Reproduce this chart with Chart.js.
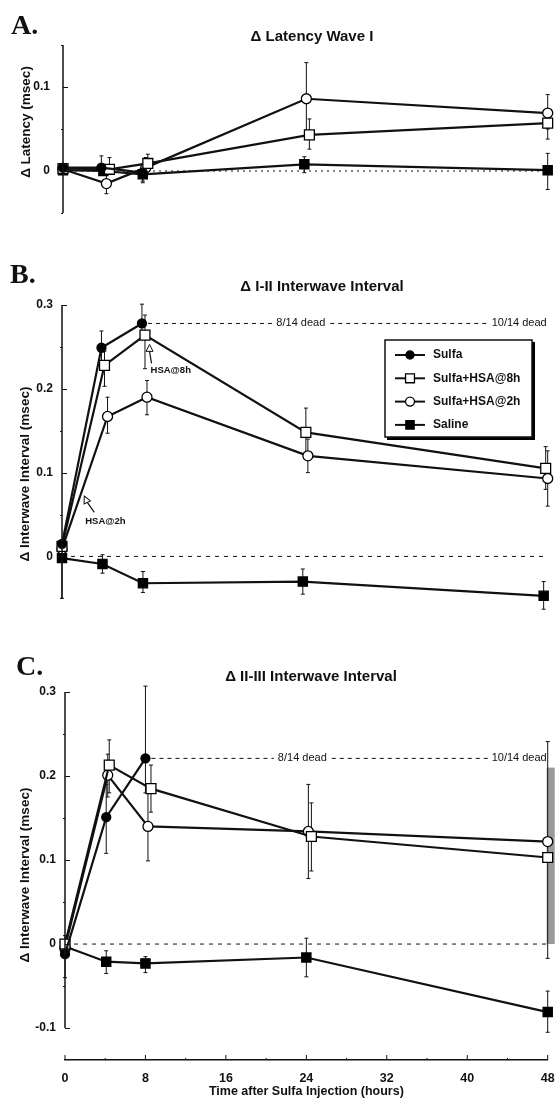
<!DOCTYPE html>
<html>
<head>
<meta charset="utf-8">
<script src="https://cdn.jsdelivr.net/npm/chart.js@4.4.1/dist/chart.umd.min.js"></script>
<style>
  body { margin: 0; background: #fff; }
  .panel { position: absolute; left: 0; }
</style>
</head>
<body>
<div class="panel" style="top:0"><canvas id="chartA" width="556" height="262"></canvas></div>
<div class="panel" style="top:262px"><canvas id="chartB" width="556" height="378"></canvas></div>
<div class="panel" style="top:640px"><canvas id="chartC" width="556" height="462"></canvas></div>
<script>
// ---- data (hours, msec) ----
const SERIES_LABELS = ['Sulfa', 'Sulfa+HSA@8h', 'Sulfa+HSA@2h', 'Saline'];
const HOURS_MAJOR = [0, 8, 16, 24, 32, 40, 48];
const HOURS_MINOR = [4, 12, 20, 28, 36, 44];

// A. latency wave I
const A_SULFA_X = [0, 3.8, 7.9];
const A_SULFA_Y = [0.004, 0.004, -0.002];
const A_SULFA_ERR = [null, [0.0, 0.018], [-0.012, 0.008]];
const A_HSA8_X = [0, 4.6, 8.4, 24.4, 48];
const A_HSA8_Y = [0.003, 0.002, 0.009, 0.043, 0.057];
const A_HSA8_ERR = [null, [-0.004, 0.016], [0.0, 0.02], [0.026, 0.062], [0.038, 0.07]];
const A_HSA2_X = [0, 4.3, 8.2, 24.1, 48];
const A_HSA2_Y = [0.002, -0.015, 0.004, 0.086, 0.069];
const A_HSA2_ERR = [null, [-0.027, -0.004], [-0.006, 0.016], [0.045, 0.129], [0.05, 0.091]];
const A_SALINE_X = [0, 4, 7.9, 23.9, 48];
const A_SALINE_Y = [0.001, 0.0, -0.004, 0.008, 0.001];
const A_SALINE_ERR = [null, null, [-0.014, 0.004], [-0.002, 0.017], [-0.022, 0.021]];
const A_Y_LABELS = [0, 0.1];

// B. I-II interwave interval
const B_SULFA_X = [0, 3.9, 7.9];
const B_SULFA_Y = [0.015, 0.249, 0.278];
const B_SULFA_ERR = [null, [0.23, 0.269], [0.265, 0.301]];
const B_HSA8_X = [0, 4.2, 8.2, 24.1, 47.8];
const B_HSA8_Y = [0.012, 0.228, 0.264, 0.148, 0.105];
const B_HSA8_ERR = [null, [0.203, 0.245], [0.224, 0.288], [0.118, 0.177], [0.08, 0.131]];
const B_HSA2_X = [0, 4.5, 8.4, 24.3, 48];
const B_HSA2_Y = [0.009, 0.167, 0.19, 0.12, 0.093];
const B_HSA2_ERR = [null, [0.147, 0.19], [0.169, 0.21], [0.1, 0.14], [0.06, 0.126]];
const B_SALINE_X = [0, 4, 8, 23.8, 47.6];
const B_SALINE_Y = [-0.002, -0.009, -0.032, -0.03, -0.047];
const B_SALINE_ERR = [[-0.05, 0.01], [-0.02, 0.002], [-0.043, -0.018], [-0.045, -0.015], [-0.063, -0.03]];
const B_Y_LABELS = [0, 0.1, 0.2, 0.3];

// C. II-III interwave interval
const C_SULFA_X = [0, 4.1, 8.0];
const C_SULFA_Y = [-0.012, 0.151, 0.221];
const C_SULFA_ERR = [null, [0.108, 0.19], [0.18, 0.307]];
const C_HSA8_X = [0, 4.4, 8.55, 24.5, 48];
const C_HSA8_Y = [0.0, 0.213, 0.185, 0.128, 0.103];
const C_HSA8_ERR = [null, [0.18, 0.243], [0.157, 0.213], [0.087, 0.168], null];
const C_HSA2_X = [0, 4.25, 8.25, 24.2, 48];
const C_HSA2_Y = [-0.004, 0.201, 0.14, 0.134, 0.122];
const C_HSA2_ERR = [null, [0.175, 0.226], [0.099, 0.18], [0.078, 0.19], [-0.017, 0.241]];
const C_HSA2_SHADE = [null, null, null, null, [0.0, 0.21]];
const C_SALINE_X = [0, 4.1, 8, 24, 48];
const C_SALINE_Y = [-0.003, -0.021, -0.023, -0.016, -0.081];
const C_SALINE_ERR = [[-0.04, 0.01], [-0.035, -0.008], [-0.034, -0.015], [-0.039, 0.007], [-0.105, -0.056]];
const C_Y_LABELS = [-0.1, 0, 0.1, 0.2, 0.3];

const INK = '#111';
const SANS = "'Liberation Sans', Arial, sans-serif";
Chart.defaults.font.family = SANS;
Chart.defaults.color = INK;

const MARKERS = [
    { pointStyle: 'circle', pointRadius: 4.5, pointBackgroundColor: '#000' },
    { pointStyle: 'rect', pointRadius: 7, pointBackgroundColor: '#fff' },
    { pointStyle: 'circle', pointRadius: 5, pointBackgroundColor: '#fff' },
    { pointStyle: 'rect', pointRadius: 6.5, pointBackgroundColor: '#000' }
];

function series(i, xs, ys, errs, shade) {
    return {
        label: SERIES_LABELS[i],
        data: xs.map((x, j) => ({ x: x, y: ys[j] })),
        errorBars: errs,
        errorShade: shade || null,
        borderColor: INK,
        borderWidth: 2.2,
        pointBorderColor: '#000',
        pointBorderWidth: 1.3,
        pointHoverRadius: MARKERS[i].pointRadius,
        clip: 12,
        ...MARKERS[i]
    };
}

function line(ctx, x1, y1, x2, y2) {
    ctx.beginPath();
    ctx.moveTo(x1, y1);
    ctx.lineTo(x2, y2);
    ctx.stroke();
}

function fmt(v) {
    return v === 0 ? '0' : v.toFixed(1);
}

// axes, error bars and the printed annotations of one panel
function decorPlugin(d) {
    return {
        id: 'decor',
        beforeDatasetsDraw(chart) {
            const { ctx, chartArea: ca, scales: { x, y } } = chart;
            ctx.save();
            ctx.strokeStyle = INK;
            ctx.lineWidth = 1;
            ctx.setLineDash(d.zeroDash);
            const y0 = y.getPixelForValue(0);
            line(ctx, ca.left, y0, ca.right, y0);
            ctx.setLineDash([]);

            chart.data.datasets.forEach(ds => {
                (ds.errorShade || []).forEach((e, j) => {
                    if (!e) return;
                    const px = x.getPixelForValue(ds.data[j].x);
                    const top = y.getPixelForValue(e[1]);
                    ctx.fillStyle = '#9a9a9a';
                    ctx.fillRect(px - 1, top, 8, y.getPixelForValue(e[0]) - top);
                });
                (ds.errorBars || []).forEach((e, j) => {
                    if (!e) return;
                    const px = x.getPixelForValue(ds.data[j].x);
                    const lo = y.getPixelForValue(e[0]);
                    const hi = y.getPixelForValue(e[1]);
                    line(ctx, px, lo, px, hi);
                    line(ctx, px - 2, lo, px + 2, lo);
                    line(ctx, px - 2, hi, px + 2, hi);
                });
            });

            if (d.dead) {
                const sulfa = chart.data.datasets[0].data;
                const last = sulfa[sulfa.length - 1];
                const sx = x.getPixelForValue(last.x) + 6;
                const sy = y.getPixelForValue(last.y);
                ctx.font = '11px ' + SANS;
                ctx.textBaseline = 'middle';
                const mid = x.getPixelForValue(23.6);
                const w1 = ctx.measureText(d.dead[0]).width;
                const w2 = ctx.measureText(d.dead[1]).width;
                const end = ca.right - 1;
                ctx.fillStyle = INK;
                ctx.textAlign = 'center';
                ctx.fillText(d.dead[0], mid, sy);
                ctx.textAlign = 'right';
                ctx.fillText(d.dead[1], end, sy);
                ctx.setLineDash([4, 4]);
                line(ctx, sx, sy, mid - w1 / 2 - 4, sy);
                line(ctx, mid + w1 / 2 + 5, sy, end - w2 - 3, sy);
                ctx.setLineDash([]);
            }
            ctx.restore();
        },
        afterDraw(chart) {
            const { ctx, chartArea: ca, scales: { x, y } } = chart;
            ctx.save();
            ctx.strokeStyle = INK;
            ctx.fillStyle = INK;

            // y axis drawn only over its printed range
            ctx.lineWidth = 1.5;
            line(ctx, ca.left, y.getPixelForValue(d.axisMax), ca.left, y.getPixelForValue(d.axisMin));
            ctx.lineWidth = 1;
            for (let v = d.axisMin; v <= d.axisMax + 1e-9; v += 0.05) {
                const p = Math.round(y.getPixelForValue(v)) + 0.5;
                const major = Math.abs(v * 10 - Math.round(v * 10)) < 1e-6;
                if (major) line(ctx, ca.left, p, ca.left + 5, p);
                else line(ctx, ca.left - 2, p, ca.left, p);
            }
            if (d.xTitle) {
                const yb = ca.bottom;
                HOURS_MAJOR.forEach(h => line(ctx, x.getPixelForValue(h), yb, x.getPixelForValue(h), yb - 5));
                HOURS_MINOR.forEach(h => line(ctx, x.getPixelForValue(h), yb, x.getPixelForValue(h), yb - 2));
                ctx.font = 'bold 12.5px ' + SANS;
                ctx.textAlign = 'center';
                ctx.textBaseline = 'middle';
                ctx.fillText(d.xTitle, x.getPixelForValue(24), d.xTitleY);
            }

            ctx.font = "bold 28px 'Liberation Serif', serif";
            ctx.textAlign = 'left';
            ctx.textBaseline = 'alphabetic';
            ctx.fillText(d.letter, d.letterX, d.letterY);

            ctx.font = 'bold 15px ' + SANS;
            ctx.textAlign = 'center';
            ctx.textBaseline = 'middle';
            ctx.fillText(d.title, d.titleX, d.titleY);

            ctx.save();
            ctx.translate(d.yTitleX, d.yTitleY);
            ctx.rotate(-Math.PI / 2);
            ctx.font = 'bold 13.5px ' + SANS;
            ctx.fillText(d.yTitle, 0, 0);
            ctx.restore();

            if (d.legend) {
                const L = d.legend;
                ctx.fillStyle = '#000';
                ctx.fillRect(L.x + L.w, L.y + 2, 3, L.h + 1);
                ctx.fillRect(L.x + 2, L.y + L.h, L.w + 1, 3);
                ctx.lineWidth = 1.5;
                ctx.strokeRect(L.x, L.y, L.w, L.h);
                chart.data.datasets.forEach((ds, i) => {
                    const cy = L.y + 15 + i * 23.3;
                    ctx.lineWidth = 2;
                    ctx.strokeStyle = INK;
                    line(ctx, L.x + 10, cy, L.x + 40, cy);
                    ctx.fillStyle = ds.pointBackgroundColor;
                    ctx.strokeStyle = '#000';
                    ctx.lineWidth = 1.3;
                    Chart.helpers.drawPoint(ctx, { pointStyle: ds.pointStyle, radius: ds.pointRadius * 0.9, rotation: 0, borderWidth: 1.3 }, L.x + 25, cy);
                    ctx.fillStyle = INK;
                    ctx.font = 'bold 12px ' + SANS;
                    ctx.textAlign = 'left';
                    ctx.fillText(ds.label, L.x + 48, cy);
                });
            }

            (d.arrows || []).forEach(a => {
                const tx = x.getPixelForValue(a.at[0]);
                const ty = y.getPixelForValue(a.at[1]);
                ctx.save();
                ctx.translate(tx, ty);
                ctx.rotate(a.rot);
                ctx.beginPath();
                ctx.moveTo(0, 0);
                ctx.lineTo(-3.5, 7);
                ctx.lineTo(3.5, 7);
                ctx.closePath();
                ctx.fillStyle = '#fff';
                ctx.fill();
                ctx.strokeStyle = INK;
                ctx.lineWidth = 1;
                ctx.stroke();
                ctx.lineWidth = 1.2;
                line(ctx, 0, 7, 2, 19);
                ctx.restore();
                ctx.fillStyle = INK;
                ctx.font = 'bold 9.5px ' + SANS;
                ctx.textAlign = 'left';
                ctx.textBaseline = 'middle';
                ctx.fillText(a.text, tx + a.dx, ty + a.dy);
            });
            ctx.restore();
        }
    };
}

function noPad(s) {
    s.paddingLeft = 0;
    s.paddingRight = 0;
}

function makePanel(id, datasets, cfg, decor) {
    const showX = !!decor.xTitle;
    new Chart(document.getElementById(id).getContext('2d'), {
        type: 'line',
        data: { datasets: datasets },
        options: {
            responsive: false,
            animation: false,
            events: [],
            layout: { padding: { left: 0, right: cfg.right, top: cfg.top, bottom: cfg.bottom } },
            plugins: { legend: { display: false }, tooltip: { enabled: false } },
            scales: {
                x: {
                    type: 'linear',
                    min: 0,
                    max: 48,
                    display: showX,
                    grid: { display: false, drawTicks: false },
                    border: { display: true, color: INK, width: 1.5 },
                    afterBuildTicks: s => { s.ticks = HOURS_MAJOR.map(v => ({ value: v })); },
                    afterFit: s => { s.height = cfg.xHeight || 0; noPad(s); },
                    ticks: { padding: 11, font: { size: 12.5, weight: 'bold' }, color: INK, maxRotation: 0 }
                },
                y: {
                    min: cfg.min,
                    max: cfg.max,
                    grid: { display: false, drawTicks: false },
                    border: { display: false },
                    afterBuildTicks: s => { s.ticks = cfg.labels.map(v => ({ value: v })); },
                    afterFit: s => { s.width = cfg.left; },
                    ticks: { padding: cfg.labelGap, font: { size: 12, weight: 'bold' }, color: INK, callback: v => fmt(v) }
                }
            }
        },
        plugins: [decorPlugin(decor)]
    });
}

makePanel('chartA', [
    series(0, A_SULFA_X, A_SULFA_Y, A_SULFA_ERR),
    series(1, A_HSA8_X, A_HSA8_Y, A_HSA8_ERR),
    series(2, A_HSA2_X, A_HSA2_Y, A_HSA2_ERR),
    series(3, A_SALINE_X, A_SALINE_Y, A_SALINE_ERR)
], { min: -0.05, max: 0.15, top: 45, bottom: 49, left: 63, right: 6, labelGap: 13, labels: A_Y_LABELS }, {
    letter: 'A.', letterX: 11, letterY: 34,
    title: '\u0394 Latency Wave I', titleX: 312, titleY: 37,
    yTitle: '\u0394 Latency (msec)', yTitleX: 26, yTitleY: 122,
    axisMin: -0.05, axisMax: 0.15, zeroDash: [2, 4]
});

makePanel('chartB', [
    series(0, B_SULFA_X, B_SULFA_Y, B_SULFA_ERR),
    series(1, B_HSA8_X, B_HSA8_Y, B_HSA8_ERR),
    series(2, B_HSA2_X, B_HSA2_Y, B_HSA2_ERR),
    series(3, B_SALINE_X, B_SALINE_Y, B_SALINE_ERR)
], { min: -0.052, max: 0.3, top: 43, bottom: 40, left: 62, right: 6, labelGap: 9, labels: B_Y_LABELS }, {
    letter: 'B.', letterX: 10, letterY: 21,
    title: '\u0394 I-II Interwave Interval', titleX: 322, titleY: 25,
    yTitle: '\u0394 Interwave Interval (msec)', yTitleX: 25, yTitleY: 212,
    axisMin: -0.05, axisMax: 0.3, zeroDash: [4, 5],
    dead: ['8/14 dead', '10/14 dead'],
    legend: { x: 385, y: 78, w: 147, h: 97 },
    arrows: [
        { text: 'HSA@8h', at: [8.65, 0.253], rot: 0, dx: 1, dy: 26 },
        { text: 'HSA@2h', at: [2.2, 0.072], rot: -0.45, dx: 1, dy: 25 }
    ]
});

makePanel('chartC', [
    series(0, C_SULFA_X, C_SULFA_Y, C_SULFA_ERR),
    series(1, C_HSA8_X, C_HSA8_Y, C_HSA8_ERR),
    series(2, C_HSA2_X, C_HSA2_Y, C_HSA2_ERR, C_HSA2_SHADE),
    series(3, C_SALINE_X, C_SALINE_Y, C_SALINE_ERR)
], { min: -0.138, max: 0.3, top: 52, bottom: 0, left: 65, right: 5, labelGap: 9, xHeight: 42, labels: C_Y_LABELS }, {
    letter: 'C.', letterX: 16, letterY: 35,
    title: '\u0394 II-III Interwave Interval', titleX: 311, titleY: 37,
    yTitle: '\u0394 Interwave Interval (msec)', yTitleX: 25, yTitleY: 235,
    axisMin: -0.1, axisMax: 0.3, zeroDash: [4, 5],
    dead: ['8/14 dead', '10/14 dead'],
    xTitle: 'Time after Sulfa Injection (hours)', xTitleY: 452
});
</script>
</body>
</html>
